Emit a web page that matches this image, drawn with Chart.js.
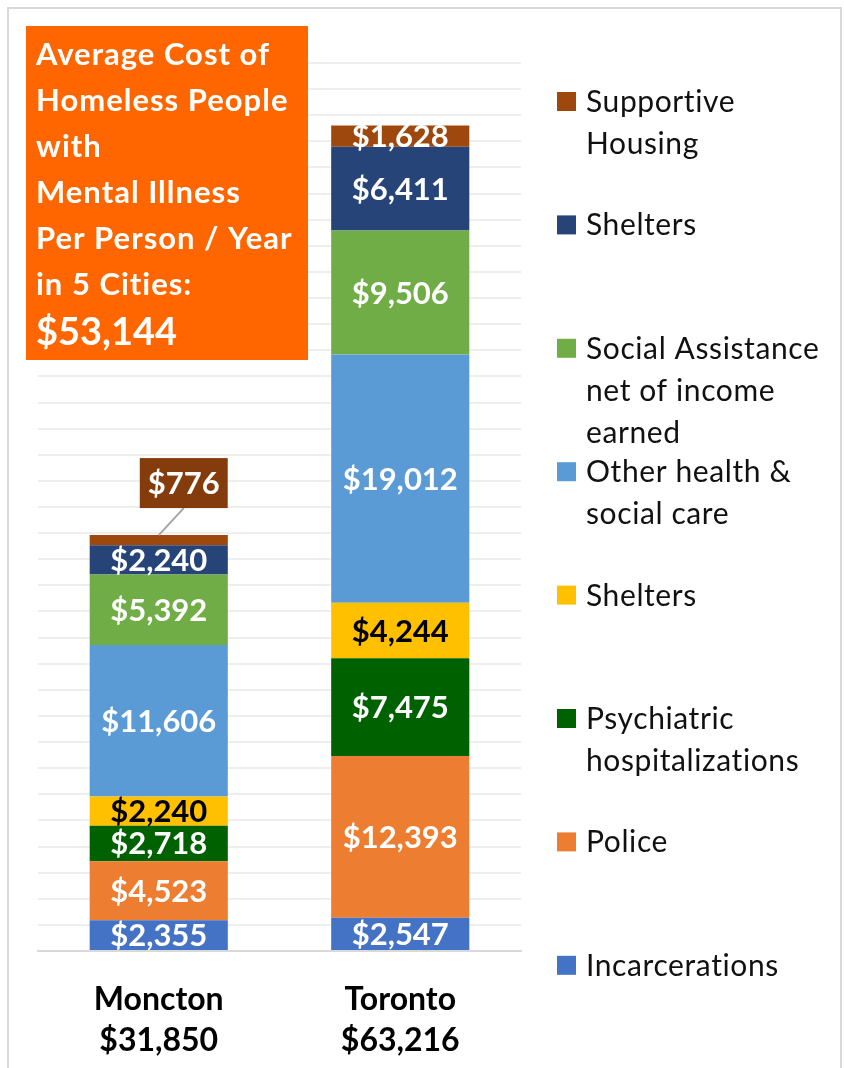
<!DOCTYPE html>
<html>
<head>
<meta charset="utf-8">
<script src="https://cdn.jsdelivr.net/npm/chart.js@4.4.1/dist/chart.umd.min.js"></script>
<style>
    html, body { margin: 0; padding: 0; background: #fff; }
    #wrap { width: 844px; height: 1068px; }
</style>
</head>
<body>
<div id="wrap"><canvas id="costChart" width="844" height="1068"></canvas></div>
<script>
// Chart data
const cities = [['Moncton', '$31,850'], ['Toronto', '$63,216']];
const incarcerations = [2355, 2547];
const police = [4523, 12393];
const psychiatric = [2718, 7475];
const sheltersYellow = [2240, 4244];
const otherHealth = [11606, 19012];
const socialAssistance = [5392, 9506];
const sheltersBlue = [2240, 6411];
const supportiveHousing = [776, 1628];

const seriesNames = [
    ['Incarcerations'],
    ['Police'],
    ['Psychiatric', 'hospitalizations'],
    ['Shelters'],
    ['Other health &', 'social care'],
    ['Social Assistance', 'net of income', 'earned'],
    ['Shelters'],
    ['Supportive', 'Housing']
];
const seriesColors = ['#4472C4', '#ED7D31', '#006100', '#FFC000', '#5B9BD5', '#70AD47', '#264478', '#9E480E'];
const labelColors = ['#fff', '#fff', '#fff', '#000', '#fff', '#fff', '#fff', '#fff'];

const titleLines = ['Average Cost of', 'Homeless People', 'with', 'Mental Illness', 'Per Person / Year', 'in 5 Cities:'];
const titleTotal = '$53,144';

const yMax = 68000;
const yStep = 2000;

const FONT = 'Lato, "Open Sans", sans-serif';

function money(v) {
    return '$' + v.toLocaleString('en-US');
}

const seriesValues = [incarcerations, police, psychiatric, sheltersYellow, otherHealth, socialAssistance, sheltersBlue, supportiveHousing];

// White background and light frame (open at the bottom, like the crop)
const framePlugin = {
    id: 'frame',
    beforeDraw(chart) {
        const ctx = chart.ctx;
        ctx.save();
        ctx.fillStyle = '#fff';
        ctx.fillRect(0, 0, chart.width, chart.height);
        ctx.strokeStyle = '#d9d9d9';
        ctx.lineWidth = 2;
        ctx.beginPath();
        ctx.moveTo(8, chart.height);
        ctx.lineTo(8, 8);
        ctx.lineTo(841, 8);
        ctx.lineTo(841, chart.height);
        ctx.stroke();
        ctx.restore();
    }
};

// Value labels inside each segment
const valueLabels = {
    id: 'valueLabels',
    afterDatasetsDraw(chart) {
        const ctx = chart.ctx;
        const area = chart.chartArea;
        ctx.save();
        ctx.font = 'bold 31px ' + FONT;
        ctx.textAlign = 'center';
        ctx.textBaseline = 'middle';
        chart.data.datasets.forEach((ds, di) => {
            const meta = chart.getDatasetMeta(di);
            meta.data.forEach((bar, i) => {
                const text = money(ds.data[i]);
                if (di === 7 && i === 0) {
                    // small top segment in Moncton gets a callout box
                    const w = ctx.measureText(text).width + 16;
                    const h = 50;
                    const cx = bar.x + 25;
                    const cy = bar.y - 52;
                    ctx.strokeStyle = '#a6a6a6';
                    ctx.lineWidth = 2;
                    ctx.beginPath();
                    ctx.moveTo(bar.x, bar.y);
                    ctx.lineTo(cx, cy + h / 2);
                    ctx.stroke();
                    ctx.fillStyle = '#843C0C';
                    ctx.fillRect(cx - w / 2, cy - h / 2, w, h);
                    ctx.fillStyle = '#fff';
                    ctx.fillText(text, cx, cy + 1);
                    return;
                }
                ctx.save();
                ctx.beginPath();
                ctx.rect(area.left, area.top, area.right - area.left, area.bottom - area.top);
                ctx.clip();
                ctx.fillStyle = labelColors[di];
                ctx.fillText(text, bar.x, (bar.y + bar.base) / 2 + 1);
                ctx.restore();
            });
        });
        ctx.restore();
    }
};

// Orange title box and the right-hand legend
const decorations = {
    id: 'decorations',
    afterDraw(chart) {
        const ctx = chart.ctx;
        ctx.save();

        // title box
        ctx.fillStyle = '#FF6600';
        ctx.fillRect(26, 26, 282, 334);
        ctx.fillStyle = '#fff';
        ctx.textAlign = 'left';
        ctx.textBaseline = 'alphabetic';
        ctx.letterSpacing = '1px';
        ctx.font = 'bold 31px ' + FONT;
        titleLines.forEach((line, i) => {
            ctx.fillText(line, 36, 65 + i * 46);
        });
        ctx.letterSpacing = '0px';
        ctx.font = 'bold 38px ' + FONT;
        ctx.fillText(titleTotal, 36, 345);

        // legend, top entry is the last series
        ctx.letterSpacing = '0.6px';
        ctx.font = '30px ' + FONT;
        const n = chart.data.datasets.length;
        for (let k = 0; k < n; k++) {
            const ds = chart.data.datasets[n - 1 - k];
            const top = 92 + k * 123.4;
            ctx.fillStyle = ds.backgroundColor;
            ctx.fillRect(557, top, 19, 19);
            ctx.fillStyle = '#111';
            ds.labelLines.forEach((line, j) => {
                ctx.fillText(line, 586, top + 20 + j * 42);
            });
        }
        ctx.restore();
    }
};

const ctx = document.getElementById('costChart');

new Chart(ctx, {
    type: 'bar',
    data: {
        labels: cities,
        datasets: seriesValues.map((vals, i) => ({
            label: seriesNames[i].join(' '),
            labelLines: seriesNames[i],
            data: vals,
            backgroundColor: seriesColors[i],
            borderWidth: 0,
            categoryPercentage: 1,
            barPercentage: 0.572
        }))
    },
    options: {
        responsive: false,
        animation: false,
        devicePixelRatio: 1,
        layout: {
            padding: { left: 38, right: 323, top: 63, bottom: 0 }
        },
        plugins: {
            legend: { display: false },
            tooltip: { enabled: false }
        },
        scales: {
            x: {
                stacked: true,
                grid: { display: false },
                border: { color: '#d9d9d9', width: 2 },
                ticks: {
                    color: '#000',
                    font: { family: FONT, size: 32, weight: 'bold', lineHeight: 1.28 },
                    padding: 20,
                    maxRotation: 0,
                    autoSkip: false
                },
                afterFit(scale) { scale.height = 117; }
            },
            y: {
                stacked: true,
                min: 0,
                max: yMax,
                ticks: { display: false, stepSize: yStep },
                grid: {
                    color: '#eeeeee',
                    lineWidth: 2,
                    drawTicks: false
                },
                border: { display: false },
                afterFit(scale) { scale.width = 0; }
            }
        }
    },
    plugins: [framePlugin, valueLabels, decorations]
});
</script>
</body>
</html>
